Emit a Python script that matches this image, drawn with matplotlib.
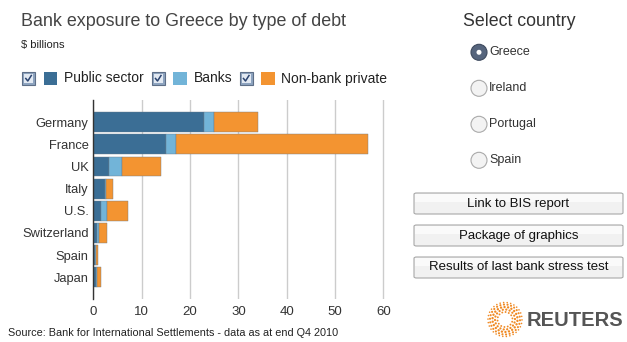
import numpy as np
import matplotlib
matplotlib.use("Agg")
import matplotlib.pyplot as plt
from matplotlib.patches import Rectangle, Ellipse, FancyBboxPatch
from matplotlib.lines import Line2D

countries = ["Germany", "France", "UK", "Italy", "U.S.", "Switzerland", "Spain", "Japan"]
public_sector = [22.8, 15.0, 3.3, 2.5, 1.5, 0.7, 0.4, 0.5]
banks = [2.2, 2.1, 2.7, 0.2, 1.4, 0.4, 0.1, 0.3]
non_bank_private = [9.0, 39.8, 8.1, 1.3, 4.3, 1.7, 0.4, 0.7]
series_names = ["Public sector", "Banks", "Non-bank private"]
series_colors = ["#3b6e95", "#72b4d8", "#f39431"]
xticks = [0, 10, 20, 30, 40, 50, 60]
radio_options = ["Greece", "Ireland", "Portugal", "Spain"]
buttons = ["Link to BIS report", "Package of graphics", "Results of last bank stress test"]

plt.rcParams['font.family'] = ['Liberation Sans', 'DejaVu Sans']

W, H = 627, 342
fig = plt.figure(figsize=(W / 100, H / 100), dpi=100)
fig.patch.set_facecolor("white")

def fx(x):
    return x / W

def fy(y):
    return 1 - y / H

# main axes
ax_l, ax_r, ax_t, ax_b = 93.3, 395, 100, 299
ax = fig.add_axes([fx(ax_l), fy(ax_b), fx(ax_r - ax_l), (ax_b - ax_t) / H])
y = np.arange(len(countries))
left = np.zeros(len(countries))
for vals, col in zip([public_sector, banks, non_bank_private], series_colors):
    ax.barh(y, vals, left=left, height=0.9, color=col, edgecolor="#6a7a88", linewidth=0.3, zorder=3)
    left = left + np.array(vals)

ax.set_ylim(7.98, -1.0)
ax.set_xlim(0, 62.4)
ax.set_xticks(xticks)
ax.set_xticklabels([str(t) for t in xticks], fontsize=9.5, color="#333333")
ax.set_yticks(y)
ax.set_yticklabels(countries, fontsize=9.3, color="#333333")
ax.tick_params(axis='y', length=0, pad=3.5)
ax.tick_params(axis='x', length=0, pad=5)
ax.grid(axis='x', color="#cccccc", linewidth=1, zorder=0)
for s in ["top", "right", "bottom"]:
    ax.spines[s].set_visible(False)
ax.spines["left"].set_color("#333333")
ax.spines["left"].set_linewidth(1)
ax.spines["left"].set_zorder(4)

# titles
fig.text(fx(21), fy(22), "Bank exposure to Greece by type of debt", fontsize=12.9,
         color="#444444", va="center", ha="left")
fig.text(fx(21), fy(45), "$ billions", fontsize=8, color="#222222", va="center", ha="left")

# legend
lx = [22.3, 152, 240]
for x0, name, col in zip(lx, series_names, series_colors):
    fig.add_artist(Rectangle((fx(x0), fy(85)), fx(12.7), 12.7 / H, facecolor="#8ea4c0",
                             edgecolor="#5e6f88", linewidth=0.8, transform=fig.transFigure))
    fig.add_artist(Rectangle((fx(x0 + 2), fy(83)), fx(8.7), 8.7 / H, facecolor="#e2e9f2",
                             edgecolor="none", transform=fig.transFigure))
    fig.add_artist(Line2D([fx(x0 + 3.5), fx(x0 + 5.5), fx(x0 + 9)], [fy(78.5), fy(81), fy(75.5)],
                          color="#2b4470", linewidth=1.1, transform=fig.transFigure))
    fig.add_artist(Rectangle((fx(x0 + 21.4), fy(85)), fx(13.3), 12.7 / H, facecolor=col,
                             edgecolor="none", transform=fig.transFigure))
    fig.text(fx(x0 + 41.4), fy(78.5), name, fontsize=10, color="#222222", va="center", ha="left")

# select country panel
fig.text(fx(519), fy(22), "Select country", fontsize=12.8, color="#333333", va="center", ha="center")
for i, opt in enumerate(radio_options):
    cy = 52.3 + i * 36
    if i == 0:
        fig.add_artist(Ellipse((fx(479), fy(cy)), fx(16), 16 / H,
                               facecolor="#56657d", edgecolor="#3e4a5e",
                               linewidth=0.8, transform=fig.transFigure))
        fig.add_artist(Ellipse((fx(479), fy(cy)), fx(5), 5 / H,
                               facecolor="white", edgecolor="none",
                               transform=fig.transFigure))
    else:
        fig.add_artist(Ellipse((fx(479), fy(cy)), fx(16), 16 / H,
                               facecolor="#f3f3f3", edgecolor="#aaaaaa",
                               linewidth=0.8, transform=fig.transFigure))
    fig.text(fx(489), fy(cy), opt, fontsize=9, color="#333333", va="center", ha="left")

for i, b in enumerate(buttons):
    top = 193 + i * 32
    fig.add_artist(FancyBboxPatch((fx(414), fy(top + 21)), fx(209), 21 / H,
                                  boxstyle="round,pad=0,rounding_size=0.004",
                                  facecolor="#f1f1f1", edgecolor="#a8a8a8", linewidth=0.8,
                                  transform=fig.transFigure))
    fig.add_artist(Rectangle((fx(415), fy(top + 9)), fx(207), 8 / H,
                             facecolor="#fafafa", edgecolor="none", transform=fig.transFigure))
    fig.text(fx(518.5), fy(top + 10.5), b, fontsize=9.5, color="#111111", va="center", ha="center")

# Reuters logo
cx, cy = 505, 319.5
pts_x, pts_y, sizes = [], [], []
for r, n, s in [(7.5, 14, 1.8), (10, 18, 2.5), (12.5, 22, 2.8), (15, 26, 2.3), (17, 30, 1.3)]:
    ang = np.linspace(0, 2 * np.pi, n, endpoint=False) + r * 0.1
    pts_x.extend(fx(cx + r * np.cos(ang)))
    pts_y.extend(fy(cy + r * np.sin(ang)))
    sizes.extend([s] * n)
logo_ax = fig.add_axes([0, 0, 1, 1], facecolor="none")
logo_ax.set_xlim(0, 1)
logo_ax.set_ylim(0, 1)
logo_ax.axis("off")
logo_ax.scatter(pts_x, pts_y, s=sizes, color="#f08a24", edgecolors="none")
fig.text(fx(527), fy(320), "REUTERS", fontsize=14.5, fontweight="bold", color="#555555",
         va="center", ha="left")

# source
fig.text(fx(8), fy(333), "Source: Bank for International Settlements - data as at end Q4 2010",
         fontsize=7.8, color="#222222", va="center", ha="left")

fig.savefig("out.png", dpi=100)
